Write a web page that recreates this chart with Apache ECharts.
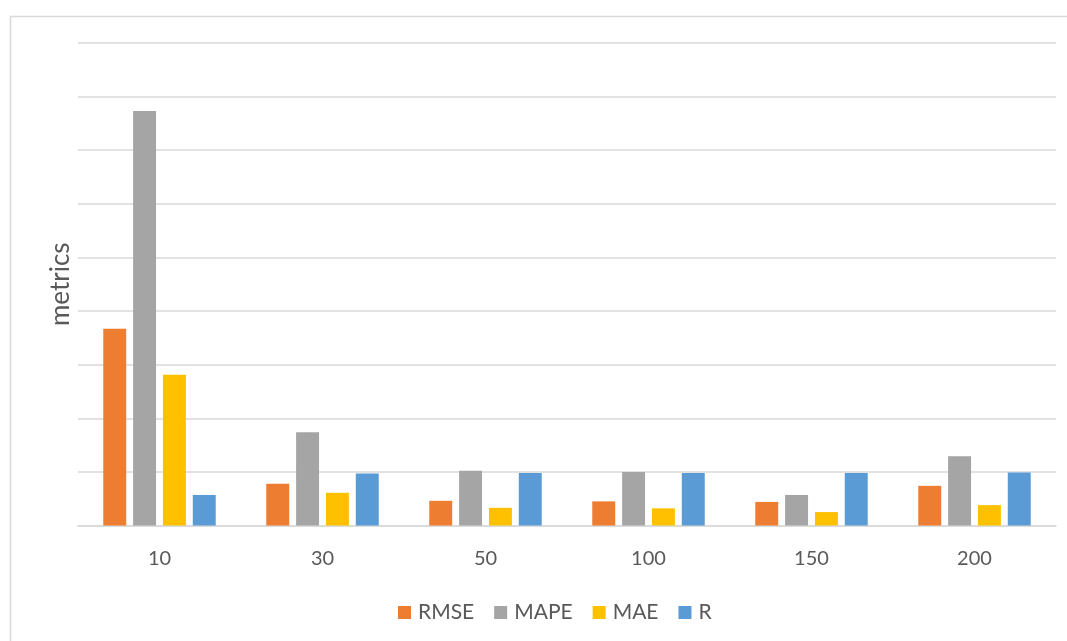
<!DOCTYPE html>
<html>
<head>
<meta charset="utf-8">
<script src="https://cdn.jsdelivr.net/npm/echarts@6/dist/echarts.min.js"></script>
<style>
  html, body { margin: 0; padding: 0; background: #fff; }
  #chart { width: 1067px; height: 641px; }
</style>
</head>
<body>
<div id="chart"></div>
<script>
// Window sizes along the x axis
const categories = ['10', '30', '50', '100', '150', '200'];

// Metric values per window size
const rmse = [3.67, 0.78, 0.46, 0.45, 0.44, 0.74];
const mape = [7.73, 1.74, 1.02, 1.00, 0.57, 1.29];
const mae  = [2.81, 0.61, 0.33, 0.32, 0.25, 0.38];
const r    = [0.57, 0.97, 0.98, 0.98, 0.98, 0.99];

const seriesNames = ['RMSE', 'MAPE', 'MAE', 'R'];
const seriesData = [rmse, mape, mae, r];
const colors = ['#ED7D31', '#A5A5A5', '#FFC000', '#5B9BD5'];

const fontFamily = 'Lato, "Open Sans", sans-serif';
const textColor = '#595959';

const chart = echarts.init(document.getElementById('chart'), null, { renderer: 'canvas' });

chart.setOption({
  animation: false,
  backgroundColor: '#ffffff',
  color: colors,
  graphic: [{
    type: 'rect',
    left: 8,
    top: 14,
    shape: { width: 1080, height: 660 },
    style: { fill: 'none', stroke: '#d9d9d9', lineWidth: 1.5 },
    silent: true,
    z: -1
  }],
  grid: { left: 78, right: 11, top: 43, bottom: 115.5, containLabel: false },
  legend: {
    data: seriesNames,
    bottom: 18,
    left: 398,
    padding: 0,
    itemWidth: 13,
    itemHeight: 13,
    itemGap: 20,
    icon: 'rect',
    textStyle: { color: textColor, fontSize: 21, fontFamily: fontFamily, padding: [0, 0, 0, 2] }
  },
  xAxis: {
    type: 'category',
    data: categories,
    axisLine: { show: true, lineStyle: { color: '#d9d9d9', width: 1.5 } },
    axisTick: { show: false },
    axisLabel: { color: textColor, fontSize: 20, fontFamily: fontFamily, margin: 23 }
  },
  yAxis: {
    type: 'value',
    min: 0,
    max: 9,
    interval: 1,
    name: 'metrics',
    nameLocation: 'middle',
    nameGap: 4,
    nameRotate: 90,
    nameTextStyle: { color: textColor, fontSize: 26, fontFamily: fontFamily },
    axisLine: { show: false },
    axisTick: { show: false },
    axisLabel: { show: false },
    splitLine: { lineStyle: { color: '#d9d9d9', width: 1.5 } }
  },
  series: seriesNames.map((name, i) => ({
    name: name,
    type: 'bar',
    data: seriesData[i],
    barGap: '30%',
    barCategoryGap: '31%',
    itemStyle: { color: colors[i] }
  }))
});
</script>
</body>
</html>
